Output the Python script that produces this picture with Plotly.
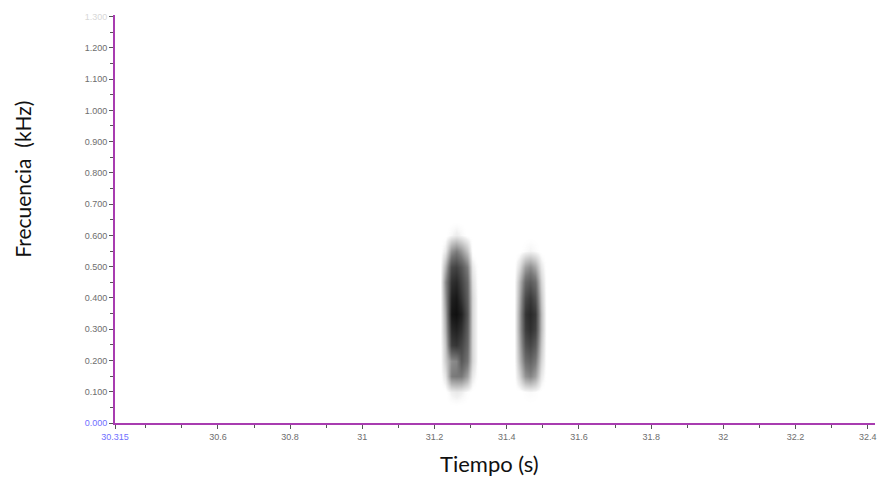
import plotly.graph_objects as go

# ---- data ----
freq_rows = [0.05, 0.10, 0.15, 0.20, 0.25, 0.30, 0.35, 0.40, 0.45, 0.50, 0.55, 0.60, 0.65]

call1_times = [31.215, 31.23, 31.245, 31.26, 31.275, 31.29, 31.305, 31.32]
call1_level = [
    [0, 0.00, 0.00, 0.00, 0.00, 0.00, 0.00, 0],
    [0, 0.00, 0.06, 0.08, 0.06, 0.02, 0.00, 0],
    [0, 0.10, 0.48, 0.50, 0.50, 0.35, 0.08, 0],
    [0, 0.18, 0.42, 0.45, 0.65, 0.52, 0.15, 0],
    [0, 0.22, 0.78, 0.82, 0.74, 0.58, 0.15, 0],
    [0, 0.28, 0.88, 0.92, 0.84, 0.62, 0.15, 0],
    [0, 0.32, 0.97, 1.00, 0.92, 0.66, 0.15, 0],
    [0, 0.38, 0.92, 0.96, 0.82, 0.62, 0.15, 0],
    [0, 0.42, 0.84, 0.88, 0.75, 0.58, 0.12, 0],
    [0, 0.28, 0.72, 0.76, 0.66, 0.48, 0.08, 0],
    [0, 0.08, 0.40, 0.48, 0.38, 0.22, 0.00, 0],
    [0, 0.00, 0.04, 0.07, 0.04, 0.00, 0.00, 0],
    [0, 0.00, 0.00, 0.00, 0.00, 0.00, 0.00, 0],
]

call2_times = [31.42, 31.435, 31.45, 31.465, 31.48, 31.495, 31.51]
call2_level = [
    [0, 0.00, 0.00, 0.00, 0.00, 0.00, 0],
    [0, 0.00, 0.02, 0.03, 0.02, 0.00, 0],
    [0, 0.15, 0.40, 0.45, 0.35, 0.08, 0],
    [0, 0.25, 0.55, 0.60, 0.50, 0.15, 0],
    [0, 0.30, 0.68, 0.74, 0.64, 0.20, 0],
    [0, 0.34, 0.78, 0.85, 0.76, 0.24, 0],
    [0, 0.34, 0.82, 0.88, 0.80, 0.24, 0],
    [0, 0.30, 0.72, 0.80, 0.68, 0.20, 0],
    [0, 0.25, 0.58, 0.64, 0.55, 0.15, 0],
    [0, 0.12, 0.36, 0.42, 0.32, 0.08, 0],
    [0, 0.00, 0.03, 0.05, 0.03, 0.00, 0],
    [0, 0.00, 0.00, 0.00, 0.00, 0.00, 0],
    [0, 0.00, 0.00, 0.00, 0.00, 0.00, 0],
]

x_tick_vals = [30.315, 30.6, 30.8, 31.0, 31.2, 31.4, 31.6, 31.8, 32.0, 32.2, 32.4]
x_tick_text = ['<span style="color:#6f6fff">30.315</span>', '30.6', '30.8', '31', '31.2',
               '31.4', '31.6', '31.8', '32', '32.2', '32.4']
x_minor_vals = [30.4, 30.5, 30.7, 30.9, 31.1, 31.3, 31.5, 31.7, 31.9, 32.1, 32.3]

y_tick_vals = [0.0, 0.1, 0.2, 0.3, 0.4, 0.5, 0.6, 0.7, 0.8, 0.9, 1.0, 1.1, 1.2, 1.3]
y_tick_text = ['<span style="color:#6f6fff">0.000</span>', '0.100', '0.200', '0.300', '0.400',
               '0.500', '0.600', '0.700', '0.800', '0.900', '1.000', '1.100', '1.200',
               '<span style="color:#d8d8d8">1.300</span>']
y_minor_vals = [0.05, 0.15, 0.25, 0.35, 0.45, 0.55, 0.65, 0.75, 0.85, 0.95, 1.05, 1.15, 1.25]

# ---- build combined grid ----
times = call1_times + call2_times
z = [r1 + r2 for r1, r2 in zip(call1_level, call2_level)]

fig = go.Figure()
fig.add_trace(go.Heatmap(
    x=times, y=freq_rows, z=z,
    zmin=0, zmax=1, zsmooth='best',
    colorscale=[[0, 'rgba(255,255,255,0)'], [0.05, '#f2f2f2'], [0.5, '#787878'], [1, '#101010']],
    showscale=False, hoverinfo='skip'))

line_col = '#a83cb0'
tick_font = dict(family='Liberation Sans, Arial, sans-serif', size=9, color='#6e6e6e')

# page body has an 8px margin: figure is sized/shifted to compensate
fig.update_layout(
    width=880, height=473,
    margin=dict(l=107, r=13, t=4, b=58),
    paper_bgcolor='white', plot_bgcolor='white',
    showlegend=False,
    xaxis=dict(range=[30.315, 32.42], tickmode='array', tickvals=x_tick_vals, ticktext=x_tick_text,
               showgrid=False, zeroline=False, showline=True, linecolor=line_col, linewidth=2,
               ticks='outside', ticklen=4, tickcolor='#555555', tickwidth=1,
               minor=dict(tickmode='array', tickvals=x_minor_vals, ticks='outside', ticklen=3,
                          tickcolor='#555555', showgrid=False),
               tickfont=tick_font),
    yaxis=dict(range=[0, 1.305], tickmode='array', tickvals=y_tick_vals, ticktext=y_tick_text,
               showgrid=False, zeroline=False, showline=True, linecolor=line_col, linewidth=2,
               ticks='outside', ticklen=4, tickcolor='#555555', tickwidth=1,
               minor=dict(tickmode='array', tickvals=y_minor_vals, ticks='outside', ticklen=3,
                          tickcolor='#555555', showgrid=False),
               tickfont=tick_font),
    annotations=[
        dict(text='Frecuencia  (kHz)', xref='paper', yref='paper', x=(23 - 115) / 760, y=(423 - 178) / 411,
             xanchor='center', yanchor='middle', textangle=-90, showarrow=False,
             font=dict(family='Lato, Open Sans, sans-serif', size=21, color='#111111')),
        dict(text='Tiempo (s)', xref='paper', yref='paper', x=(489 - 115) / 760, y=(423 - 464) / 411,
             xanchor='center', yanchor='middle', showarrow=False,
             font=dict(family='Lato, Open Sans, sans-serif', size=22, color='#111111')),
    ],
)

fig.write_html('out.html')
